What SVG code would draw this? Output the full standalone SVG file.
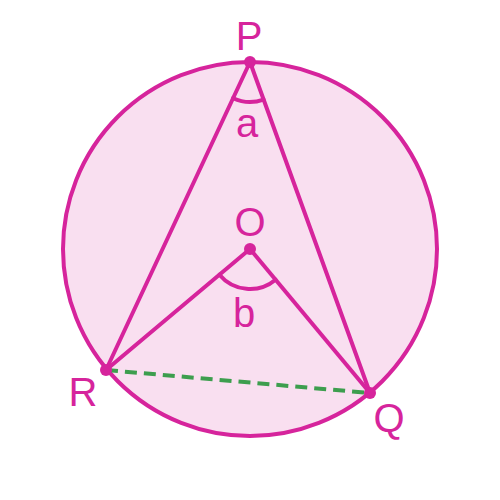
<svg xmlns="http://www.w3.org/2000/svg" width="500" height="500" viewBox="0 0 500 500">
<style>
.ln{stroke:#d6249c;stroke-width:4;fill:none;stroke-linecap:round}
.dot{fill:#d6249c}
.lbl{font-family:"Liberation Sans",Arial,sans-serif;font-size:40px;fill:#d6249c;text-anchor:middle}
</style>
<g id="circle"><circle cx="250" cy="249" r="187" fill="#f9dff0" stroke="#d6249c" stroke-width="4"/></g>
<g id="connectors">
<line class="ln" x1="250" y1="62" x2="106" y2="370"/>
<line class="ln" x1="250" y1="62" x2="370" y2="393"/>
<line class="ln" x1="250" y1="249" x2="106" y2="370"/>
<line class="ln" x1="250" y1="249" x2="370" y2="393"/>
<line x1="106" y1="370" x2="370" y2="393" stroke="#3d9e4e" stroke-width="4" stroke-dasharray="12,7"/>
<path class="ln" d="M233.1,98.2 A40,40 0 0 0 263.6,99.6"/>
<path class="ln" d="M219.4,274.7 A40,40 0 0 0 275.6,279.7"/>
</g>
<g id="P"><circle class="dot" cx="250" cy="62" r="6"/><text class="lbl" x="249" y="50">P</text></g>
<g id="O"><circle class="dot" cx="250" cy="249" r="6"/><text class="lbl" x="250" y="236">O</text></g>
<g id="R"><circle class="dot" cx="106" cy="370" r="6"/><text class="lbl" x="83" y="406">R</text></g>
<g id="Q"><circle class="dot" cx="370" cy="393" r="6"/><text class="lbl" x="389" y="432">Q</text></g>
<g id="a"><text class="lbl" x="247" y="137">a</text></g>
<g id="b"><text class="lbl" x="244" y="327">b</text></g>
</svg>
